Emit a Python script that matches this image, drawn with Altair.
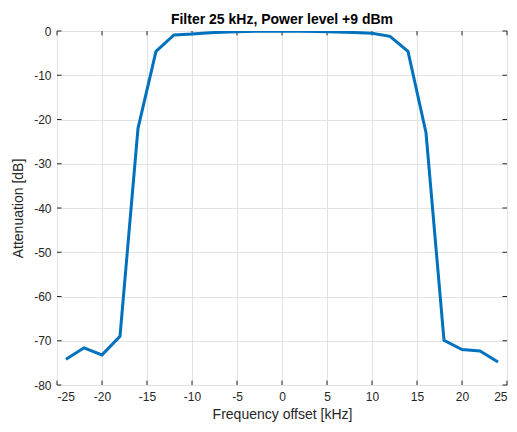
import altair as alt
import pandas as pd

freq = [-24, -22, -20, -18, -16, -14, -12, -10, -8, -6, -4, -2, 0,
        2, 4, 6, 8, 10, 12, 14, 16, 18, 20, 22, 24]
atten = [-74.2, -71.6, -73.2, -69.0, -22.0, -4.6, -0.9, -0.7, -0.4, -0.2, -0.1, -0.05, 0.0,
         -0.05, -0.1, -0.2, -0.35, -0.5, -1.2, -4.6, -23.0, -69.9, -72.0, -72.3, -74.8]
x_ticks = [-25, -20, -15, -10, -5, 0, 5, 10, 15, 20, 25]
y_ticks = [-80, -70, -60, -50, -40, -30, -20, -10, 0]

df = pd.DataFrame({"f": freq, "a": atten})
xt = pd.DataFrame({"t": x_ticks})
yt = pd.DataFrame({"t": y_ticks})

FONT = "Liberation Sans"
DARK = "#262626"

xscale = alt.Scale(domain=[-25, 25], nice=False, zero=False)
yscale = alt.Scale(domain=[-80, 0], nice=False, zero=False)

xaxis = alt.Axis(values=x_ticks, title="Frequency offset [kHz]", grid=True,
                 gridColor="#e3e3e3", tickSize=0, domain=False, labelPadding=6,
                 labelExpr="'' + datum.value",
                 labelFontSize=12, labelColor=DARK, titleFontSize=14,
                 titleFontWeight="normal", titleColor=DARK, titlePadding=5,
                 labelFont=FONT, titleFont=FONT)
yaxis = alt.Axis(values=y_ticks, title="Attenuation [dB]", grid=True,
                 gridColor="#e3e3e3", tickSize=0, domain=False, labelPadding=6,
                 labelExpr="'' + datum.value",
                 labelFontSize=12, labelColor=DARK, titleFontSize=14,
                 titleFontWeight="normal", titleColor=DARK, titlePadding=8,
                 labelFont=FONT, titleFont=FONT)

line = alt.Chart(df).mark_line(color="#0072BD", strokeWidth=3, clip=True).encode(
    x=alt.X("f:Q", scale=xscale, axis=xaxis),
    y=alt.Y("a:Q", scale=yscale, axis=yaxis),
)

tick_style = dict(color=DARK, strokeWidth=1)
xb = alt.Chart(xt).mark_rule(**tick_style).encode(
    x=alt.X("t:Q", scale=xscale), y=alt.datum(-80), y2=alt.datum(-79))
xtop = alt.Chart(xt).mark_rule(**tick_style).encode(
    x=alt.X("t:Q", scale=xscale), y=alt.datum(0), y2=alt.datum(-1))
yl = alt.Chart(yt).mark_rule(**tick_style).encode(
    y=alt.Y("t:Q", scale=yscale), x=alt.datum(-25), x2=alt.datum(-24.5))
yr = alt.Chart(yt).mark_rule(**tick_style).encode(
    y=alt.Y("t:Q", scale=yscale), x=alt.datum(25), x2=alt.datum(24.5))

chart = alt.layer(xb, xtop, yl, yr, line).properties(
    width=450, height=354,
    title=alt.TitleParams("Filter 25 kHz, Power level +9 dBm", font=FONT,
                          fontSize=14, fontWeight="bold", color="black",
                          offset=8, frame="group", dy=10),
    autosize=alt.AutoSizeParams(type="none"),
    padding={"left": 49, "top": 23, "right": 2, "bottom": 37},
).configure_view(stroke=DARK, strokeWidth=1).configure(background="white")

chart.save("out.html", embed_options={"renderer": "svg", "actions": False})
